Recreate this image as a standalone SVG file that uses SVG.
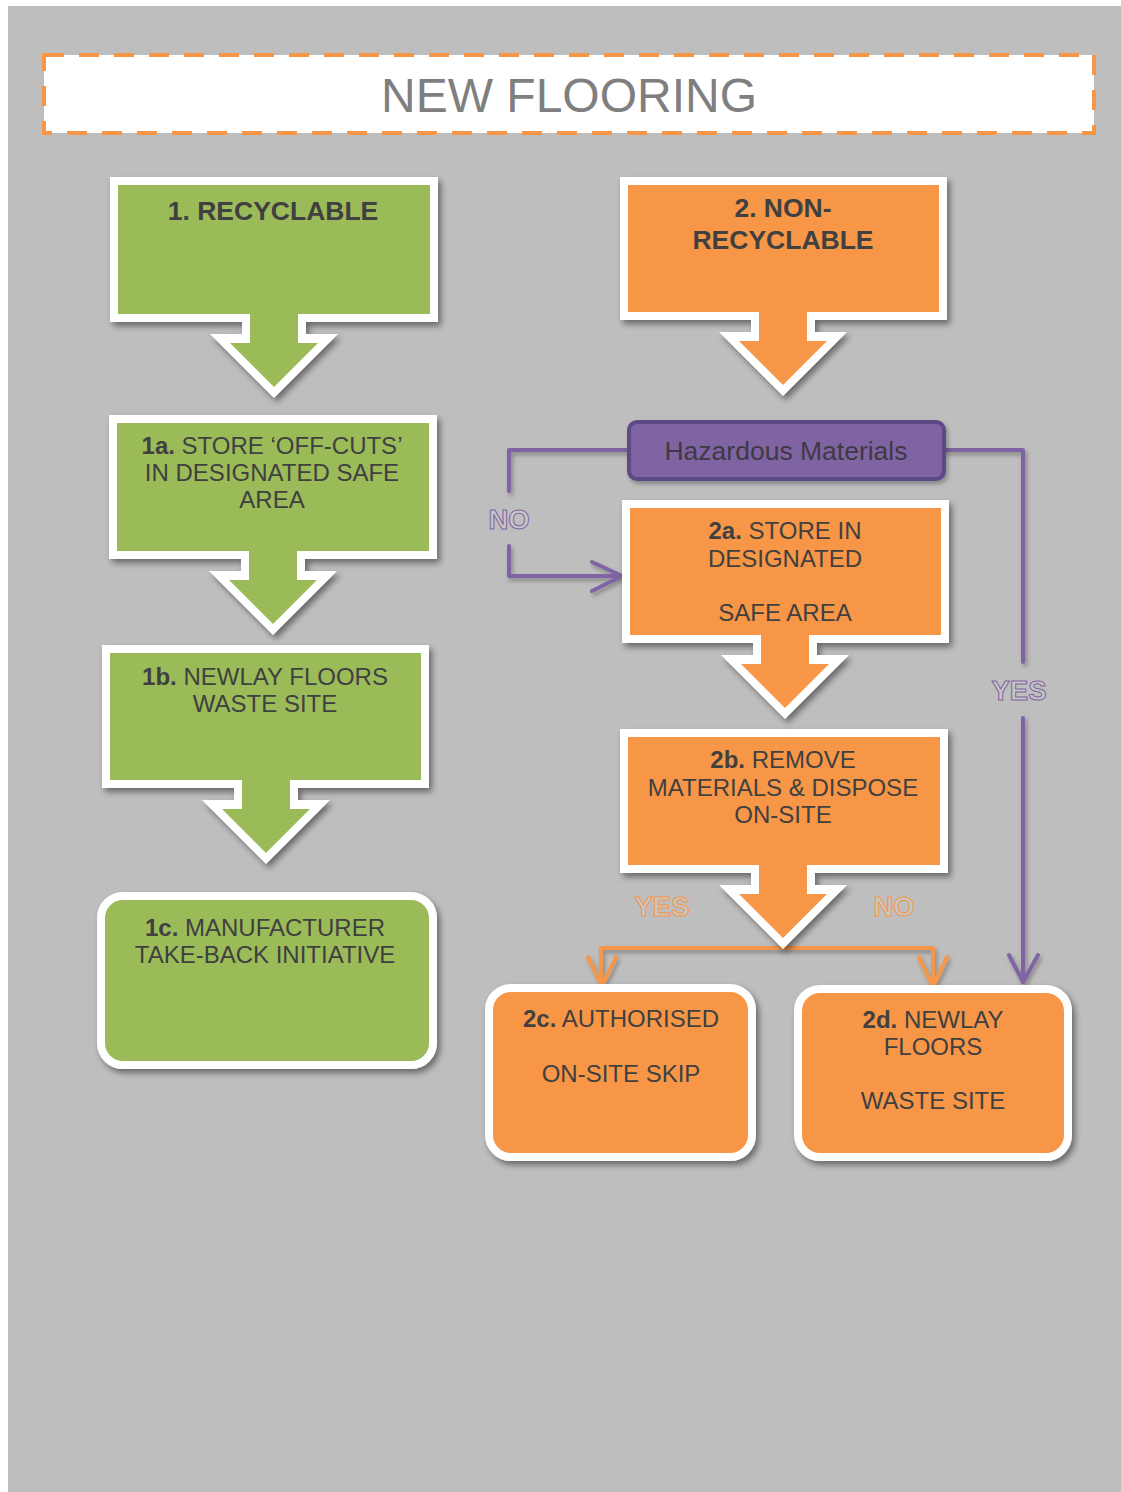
<svg xmlns="http://www.w3.org/2000/svg" width="1121" height="1492" viewBox="0 0 1121 1492">
<defs>
<style>
.txt{font-family:"Liberation Sans",Arial,sans-serif;font-size:24px;fill:#404040;text-anchor:middle}
.hd{font-family:"Liberation Sans",Arial,sans-serif;font-size:26.5px;font-weight:bold;fill:#404040;text-anchor:middle}
.b{font-weight:bold}
.outer{fill:#FFFFFF;filter:url(#sh)}
.g{fill:#9BBB59}
.o{fill:#F79646}
.lab{font-family:"Liberation Sans",Arial,sans-serif;font-size:27.5px;font-weight:bold;text-anchor:middle;fill:#C6C6C6;stroke-width:1}
.pl{fill:none;stroke:#8064A2;stroke-width:4;stroke-linecap:round;stroke-linejoin:round}
.ol{fill:none;stroke:#F79646;stroke-width:4;stroke-linecap:round;stroke-linejoin:round}
</style>
<filter id="sh" x="-10%" y="-10%" width="125%" height="130%">
<feDropShadow dx="3" dy="4" stdDeviation="3" flood-color="#000" flood-opacity="0.45"/>
</filter>
<filter id="lsh" x="-10%" y="-10%" width="125%" height="130%">
<feDropShadow dx="2" dy="3" stdDeviation="2" flood-color="#000" flood-opacity="0.3"/>
</filter>
</defs>
<rect x="8" y="6" width="1113" height="1486" fill="#BEBEBE"/>

<g id="title">
<rect x="44" y="55" width="1050" height="78" fill="#FFFFFF" stroke="#F79646" stroke-width="4" stroke-dasharray="20 15"/>
<text x="569" y="112" style="font-family:'Liberation Sans',Arial,sans-serif;font-size:48px;fill:#7F7F7F;text-anchor:middle">NEW FLOORING</text>
</g>

<g id="connectors">
<g filter="url(#lsh)">
<polyline class="pl" points="629,450 509,450 509,491"/>
<polyline class="pl" points="509,546 509,576 621,576"/>
<polyline class="pl" points="592,562 622,576 592,591"/>
<polyline class="pl" points="944,450 1023,450 1023,662"/>
<polyline class="pl" points="1023,718 1023,982"/>
<polyline class="pl" points="1009,955 1023,982 1038,955"/>
<polyline class="ol" points="601,986 601,948 933,948 933,987"/>
<polyline class="ol" points="588,957 602,986 616,957"/>
<polyline class="ol" points="919,957 933,987 947,957"/>
</g>
<text class="lab" x="509" y="529" stroke="#8064A2">NO</text>
<text class="lab" x="1019" y="700" stroke="#8064A2">YES</text>
<text class="lab" x="662" y="916" stroke="#F79646">YES</text>
<text class="lab" x="894" y="916" stroke="#F79646">NO</text>
</g>

<g id="n1">
<path class="outer" d="M110,177 H438 V322 H306 V334 H338 L274,398 L210,334 H242 V322 H110 Z"/>
<path class="g" d="M118,185 H430 V314 H298 V343 H318 L274,387 L230,343 H250 V314 H118 Z"/>
<text class="hd" x="273" y="220">1. RECYCLABLE</text>
</g>

<g id="n1a">
<path class="outer" d="M109,415 H437 V559 H305 V571 H337 L273,635 L209,571 H241 V559 H109 Z"/>
<path class="g" d="M117,423 H429 V551 H297 V580 H317 L273,624 L229,580 H249 V551 H117 Z"/>
<text class="txt" x="272" y="454"><tspan class="b">1a.</tspan> STORE ‘OFF-CUTS’</text>
<text class="txt" x="272" y="481">IN DESIGNATED SAFE</text>
<text class="txt" x="272" y="508">AREA</text>
</g>

<g id="n1b">
<path class="outer" d="M102,645 H429 V788 H298 V800 H330 L266,864 L202,800 H234 V788 H102 Z"/>
<path class="g" d="M110,653 H421 V780 H290 V809 H310 L266,853 L222,809 H242 V780 H110 Z"/>
<text class="txt" x="265" y="685"><tspan class="b">1b.</tspan> NEWLAY FLOORS</text>
<text class="txt" x="265" y="712">WASTE SITE</text>
</g>

<g id="n1c">
<rect x="101" y="896" width="332" height="169" rx="22" fill="#9BBB59" stroke="#FFFFFF" stroke-width="8" filter="url(#sh)"/>
<text class="txt" x="265" y="936"><tspan class="b">1c.</tspan> MANUFACTURER</text>
<text class="txt" x="265" y="963">TAKE-BACK INITIATIVE</text>
</g>

<g id="n2">
<path class="outer" d="M620,177 H947 V320 H815 V332 H847 L783,396 L719,332 H751 V320 H620 Z"/>
<path class="o" d="M628,185 H939 V312 H807 V341 H827 L783,385 L739,341 H759 V312 H628 Z"/>
<text class="hd" x="783" y="217">2. NON-</text>
<text class="hd" x="783" y="249">RECYCLABLE</text>
</g>

<g id="hazard">
<rect x="629" y="422" width="315" height="57" rx="8" fill="#8064A2" stroke="#5C4A86" stroke-width="4" filter="url(#lsh)"/>
<text x="786" y="460" style="font-family:'Liberation Sans',Arial,sans-serif;font-size:26.5px;fill:#3E3A44;text-anchor:middle">Hazardous Materials</text>
</g>

<g id="n2a">
<path class="outer" d="M622,500 H949 V643 H817 V655 H849 L785,719 L721,655 H753 V643 H622 Z"/>
<path class="o" d="M630,508 H941 V635 H809 V664 H829 L785,708 L741,664 H761 V635 H630 Z"/>
<text class="txt" x="785" y="539"><tspan class="b">2a.</tspan> STORE IN</text>
<text class="txt" x="785" y="567">DESIGNATED</text>
<text class="txt" x="785" y="621">SAFE AREA</text>
</g>

<g id="n2b">
<path class="outer" d="M620,729 H948 V873 H815 V885 H847 L783,949 L719,885 H751 V873 H620 Z"/>
<path class="o" d="M628,737 H940 V865 H807 V894 H827 L783,938 L739,894 H759 V865 H628 Z"/>
<text class="txt" x="783" y="768"><tspan class="b">2b.</tspan> REMOVE</text>
<text class="txt" x="783" y="796">MATERIALS &amp; DISPOSE</text>
<text class="txt" x="783" y="823">ON-SITE</text>
</g>

<g id="n2c">
<rect x="489" y="988" width="263" height="169" rx="22" fill="#F79646" stroke="#FFFFFF" stroke-width="8" filter="url(#sh)"/>
<text class="txt" x="621" y="1027"><tspan class="b">2c.</tspan> AUTHORISED</text>
<text class="txt" x="621" y="1082">ON-SITE SKIP</text>
</g>

<g id="n2d">
<rect x="798" y="989" width="270" height="168" rx="22" fill="#F79646" stroke="#FFFFFF" stroke-width="8" filter="url(#sh)"/>
<text class="txt" x="933" y="1028"><tspan class="b">2d.</tspan> NEWLAY</text>
<text class="txt" x="933" y="1055">FLOORS</text>
<text class="txt" x="933" y="1109">WASTE SITE</text>
</g>
</svg>
